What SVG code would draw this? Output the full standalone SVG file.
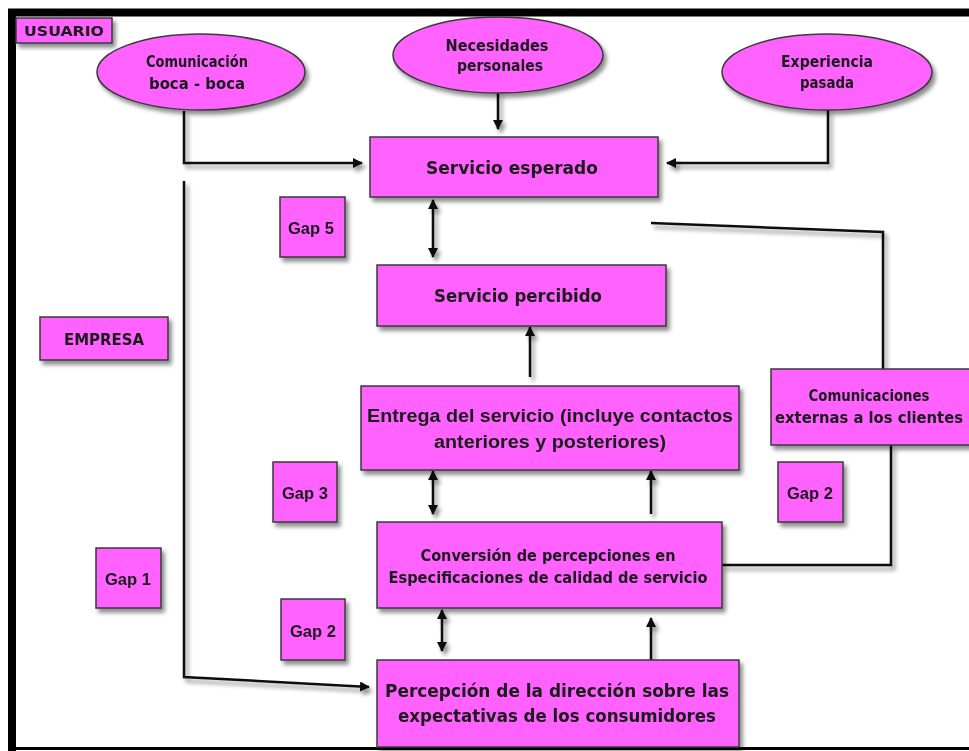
<svg xmlns="http://www.w3.org/2000/svg" width="969" height="751" viewBox="0 0 969 751">
<defs>
<filter id="sh" x="-10%" y="-10%" width="130%" height="140%">
<feDropShadow dx="3" dy="4" stdDeviation="2" flood-color="#000" flood-opacity="0.45"/>
</filter>
<marker id="ah" viewBox="0 0 10 10" refX="9" refY="5" markerWidth="10" markerHeight="10" markerUnits="userSpaceOnUse" orient="auto-start-reverse">
<path d="M0,0 L10,5 L0,10 z" fill="#111"/>
</marker>
</defs>
<style>
.box{fill:#ff62ff;stroke:#3a3a3a;stroke-width:1.5}
.c{font-family:"DejaVu Sans","Liberation Sans",sans-serif;font-weight:bold;fill:#1a1a1a;text-anchor:middle}
.a{font-family:"Liberation Sans",Arial,sans-serif;font-weight:bold;fill:#1a1a1a;text-anchor:middle}
.ln{fill:none;stroke:#111;stroke-width:2.5}
</style>
<rect width="969" height="751" fill="#fff"/>
<g id="frame">
<line x1="8" y1="12.5" x2="969" y2="12.5" stroke="#000" stroke-width="8"/>
<line x1="12" y1="9" x2="12" y2="751" stroke="#000" stroke-width="8"/>
<line x1="8" y1="748.5" x2="969" y2="748.5" stroke="#000" stroke-width="3"/>
</g>
<g id="connectors" filter="url(#sh)">
<path class="ln" d="M184,111 V163 H362" marker-end="url(#ah)"/>
<path class="ln" d="M498,93 V129" marker-end="url(#ah)"/>
<path class="ln" d="M828,110 V163 H667" marker-end="url(#ah)"/>
<path class="ln" d="M184,181 V677 L369,687" marker-end="url(#ah)"/>
<path class="ln" d="M433,200 V257" marker-start="url(#ah)" marker-end="url(#ah)"/>
<path class="ln" d="M530,377 V327" marker-end="url(#ah)"/>
<path class="ln" d="M651,223 L883,232 V369"/>
<path class="ln" d="M891,445 V565 H722"/>
<path class="ln" d="M433,471 V514" marker-start="url(#ah)" marker-end="url(#ah)"/>
<path class="ln" d="M651,514 V471" marker-end="url(#ah)"/>
<path class="ln" d="M442,610 V651" marker-start="url(#ah)" marker-end="url(#ah)"/>
<path class="ln" d="M651,660 V618" marker-end="url(#ah)"/>
</g>
<g id="usuario" filter="url(#sh)"><rect class="box" x="16" y="18" width="96" height="25"/><text class="c" x="64" y="36" font-size="14" textLength="80" lengthAdjust="spacingAndGlyphs">USUARIO</text></g>
<g id="boca" filter="url(#sh)"><ellipse class="box" cx="201" cy="72" rx="104" ry="38"/><text class="c" x="197" y="67" font-size="15" textLength="102" lengthAdjust="spacingAndGlyphs">Comunicación</text><text class="c" x="197" y="89" font-size="15" textLength="96" lengthAdjust="spacingAndGlyphs">boca - boca</text></g>
<g id="necesidades" filter="url(#sh)"><ellipse class="box" cx="498" cy="55" rx="105" ry="38"/><text class="c" x="497" y="51" font-size="15" textLength="103" lengthAdjust="spacingAndGlyphs">Necesidades</text><text class="c" x="500" y="71" font-size="15" textLength="86" lengthAdjust="spacingAndGlyphs">personales</text></g>
<g id="experiencia" filter="url(#sh)"><ellipse class="box" cx="827" cy="72" rx="105" ry="38"/><text class="c" x="827" y="67" font-size="15" textLength="92" lengthAdjust="spacingAndGlyphs">Experiencia</text><text class="c" x="827" y="88" font-size="15" textLength="54" lengthAdjust="spacingAndGlyphs">pasada</text></g>
<g id="esperado" filter="url(#sh)"><rect class="box" x="370" y="137" width="288" height="60"/><text class="c" x="512" y="174" font-size="17" textLength="172" lengthAdjust="spacingAndGlyphs">Servicio esperado</text></g>
<g id="gap5" filter="url(#sh)"><rect class="box" x="280" y="197" width="65" height="60"/><text class="a" x="311" y="234" font-size="16" textLength="46" lengthAdjust="spacingAndGlyphs">Gap 5</text></g>
<g id="percibido" filter="url(#sh)"><rect class="box" x="377" y="265" width="289" height="61"/><text class="c" x="518" y="302" font-size="17" textLength="168" lengthAdjust="spacingAndGlyphs">Servicio percibido</text></g>
<g id="empresa" filter="url(#sh)"><rect class="box" x="40" y="317" width="128" height="43"/><text class="c" x="104" y="345" font-size="15" textLength="80" lengthAdjust="spacingAndGlyphs">EMPRESA</text></g>
<g id="entrega" filter="url(#sh)"><rect class="box" x="361" y="386" width="378" height="84"/><text class="a" x="550" y="422" font-size="18" textLength="366" lengthAdjust="spacingAndGlyphs">Entrega del servicio (incluye contactos</text><text class="a" x="550" y="448" font-size="18" textLength="232" lengthAdjust="spacingAndGlyphs">anteriores y posteriores)</text></g>
<g id="comext" filter="url(#sh)"><rect class="box" x="771" y="369" width="205" height="76"/><text class="c" x="869" y="401" font-size="15" textLength="121" lengthAdjust="spacingAndGlyphs">Comunicaciones</text><text class="c" x="869" y="423" font-size="15" textLength="188" lengthAdjust="spacingAndGlyphs">externas a los clientes</text></g>
<g id="gap3" filter="url(#sh)"><rect class="box" x="273" y="462" width="64" height="60"/><text class="a" x="305" y="499" font-size="16" textLength="46" lengthAdjust="spacingAndGlyphs">Gap 3</text></g>
<g id="gap2b" filter="url(#sh)"><rect class="box" x="778" y="462" width="65" height="60"/><text class="a" x="810" y="499" font-size="16" textLength="46" lengthAdjust="spacingAndGlyphs">Gap 2</text></g>
<g id="conversion" filter="url(#sh)"><rect class="box" x="377" y="522" width="345" height="86"/><text class="c" x="548" y="561" font-size="15" textLength="255" lengthAdjust="spacingAndGlyphs">Conversión de percepciones en</text><text class="c" x="548" y="583" font-size="15" textLength="319" lengthAdjust="spacingAndGlyphs">Especificaciones de calidad de servicio</text></g>
<g id="gap1" filter="url(#sh)"><rect class="box" x="96" y="548" width="65" height="60"/><text class="a" x="128" y="585" font-size="16" textLength="46" lengthAdjust="spacingAndGlyphs">Gap 1</text></g>
<g id="gap2a" filter="url(#sh)"><rect class="box" x="281" y="599" width="64" height="61"/><text class="a" x="313" y="637" font-size="16" textLength="46" lengthAdjust="spacingAndGlyphs">Gap 2</text></g>
<g id="percepcion" filter="url(#sh)"><rect class="box" x="377" y="660" width="362" height="87"/><text class="c" x="557" y="697" font-size="17" textLength="344" lengthAdjust="spacingAndGlyphs">Percepción de la dirección sobre las</text><text class="c" x="557" y="722" font-size="17" textLength="318" lengthAdjust="spacingAndGlyphs">expectativas de los consumidores</text></g>
</svg>
